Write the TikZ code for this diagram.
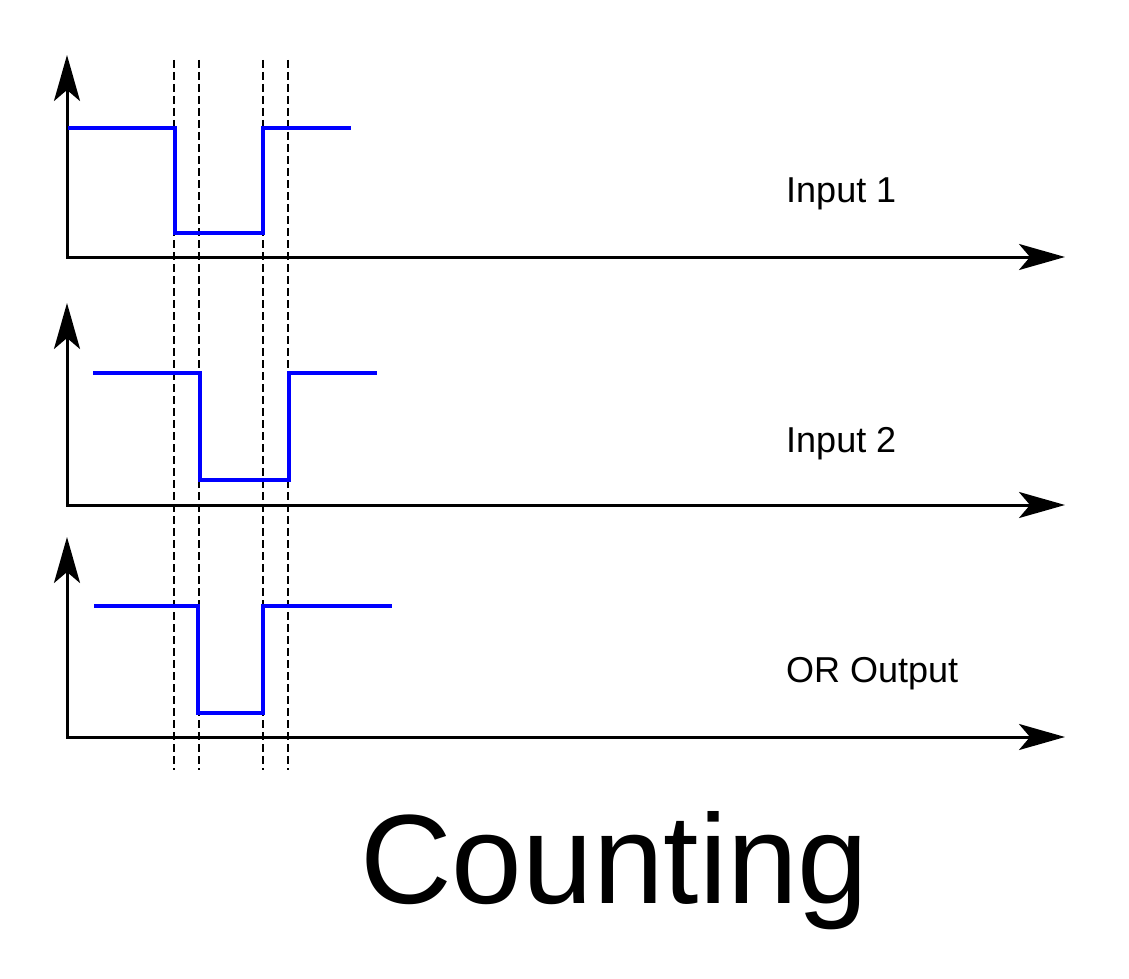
\documentclass[tikz,border=0pt]{standalone}
\usepackage{fontspec}
\setmainfont{Liberation Sans}
\usetikzlibrary{arrows.meta, positioning}

\begin{document}
\begin{tikzpicture}[x=1pt,y=-1pt,
    axis/.style={line width=3pt, {Stealth[length=46pt,width=26pt,inset=11pt]}-{Stealth[length=46pt,width=26pt,inset=11pt]}},
    signal/.style={blue, line width=4pt},
    guide/.style={line width=2.2pt, dash pattern=on 8pt off 4pt},
    lbl/.style={anchor=base west, inner sep=0pt, font=\fontsize{36}{40}\selectfont}]

      \useasboundingbox (0,0) rectangle (1129,979);

      % time marks
      \foreach \t in {174,199,263,288}
        \draw[guide] (\t,60) -- (\t,770);

      % axes
      \draw[axis] (67,55)  -- (67,257) -- (1065,257);
      \draw[axis] (67,303) -- (67,505) -- (1065,505);
      \draw[axis] (67,537) -- (67,737) -- (1065,737);

      % waveforms
      \draw[signal] (68,128) -- (175,128) -- (175,233) -- (263,233) -- (263,128) -- (351,128);
      \draw[signal] (93,373) -- (200,373) -- (200,480) -- (289,480) -- (289,373) -- (377,373);
      \draw[signal] (94,606) -- (198,606) -- (198,713) -- (263,713) -- (263,606) -- (392,606);

      \node[lbl] (in1) at (786,202) {Input 1};
      \node[lbl] (in2) at (786,452) {Input 2};
      \node[lbl] (out) at (786,682) {OR Output};
      \node[lbl, font=\fontsize{127}{140}\selectfont] (title) at (360,903) {Counting};
    \end{tikzpicture}
\end{document}
